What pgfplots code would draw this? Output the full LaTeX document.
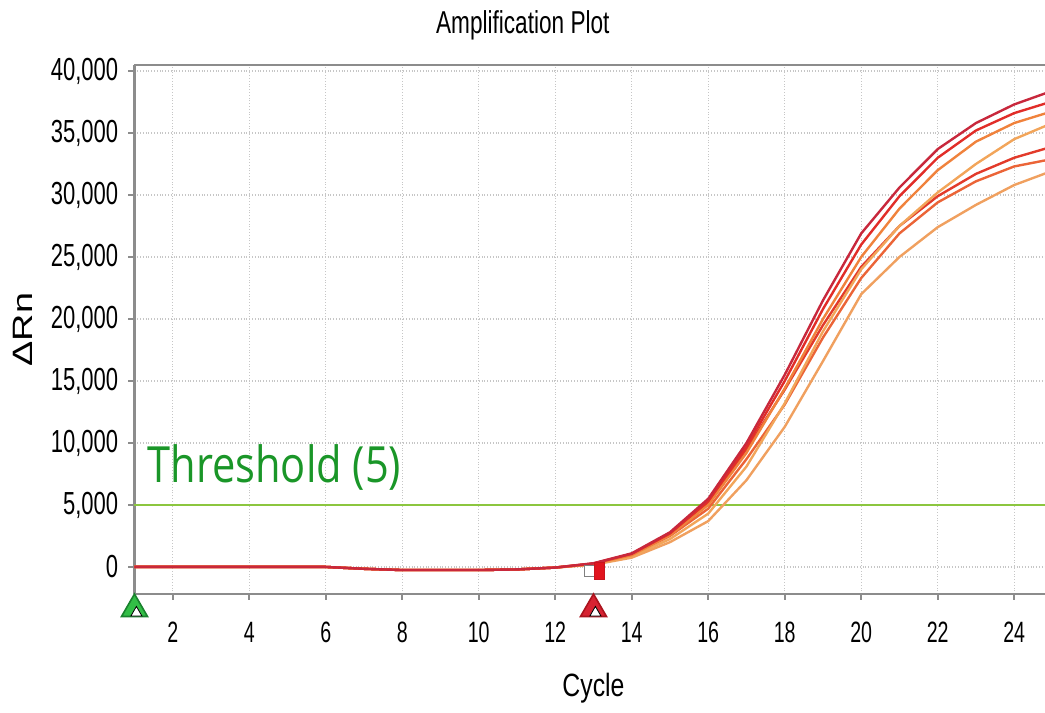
\documentclass[border=0pt]{standalone}
\usepackage{fontspec}
\setmainfont{Liberation Sans}
\newfontfamily\opensans{Open Sans}
\usepackage{graphicx}
\usepackage{pgfplots}
\pgfplotsset{compat=1.18}
\definecolor{cA}{RGB}{200,40,60}
\definecolor{cB}{RGB}{225,45,40}
\definecolor{cC}{RGB}{240,130,60}
\definecolor{cD}{RGB}{242,165,90}
\definecolor{cE}{RGB}{226,58,42}
\definecolor{cF}{RGB}{235,100,55}
\definecolor{cG}{RGB}{240,160,95}
\definecolor{thr}{RGB}{140,198,63}
\definecolor{thrtxt}{RGB}{26,150,40}
\definecolor{axgray}{RGB}{140,140,140}
\begin{document}
\begin{tikzpicture}
\begin{axis}[
  scale only axis,
  width=459pt, height=264.5pt,
  xmin=1, xmax=25, ymin=-2180, ymax=40480,
  clip=false,
  axis x line*=box, axis y line*=left,
  axis line style={axgray, line width=1.1pt},
  xtick={2,4,...,24}, ytick={0,5000,...,40000},
  xtick pos=bottom, ytick pos=left,
  tick align=outside, major tick length=3pt,
  tick style={axgray, line width=0.8pt},
  scaled y ticks=false,
  /pgf/number format/assume math mode=true,
  /pgf/number format/1000 sep={,},
  grid=major,
  major grid style={gray!45, densely dotted, line width=0.7pt},
  tick label style={font=\fontsize{11}{12}\selectfont, text=black},
  xticklabel={\scalebox{1}[1.5]{\fontsize{9.8}{11}\selectfont\pgfmathprintnumber{\tick}}},
  yticklabel={\scalebox{1}[1.45]{\pgfmathprintnumber{\tick}}},
  xticklabel style={anchor=north, inner sep=0pt, yshift=-11pt},
  yticklabel style={anchor=east, inner sep=0pt, xshift=-5pt},
  title={\scalebox{1}[1.4]{\fontsize{11.3}{13}\selectfont Amplification Plot}},
  title style={at={(rel axis cs:0.423,1)}, anchor=center, yshift=14pt, inner sep=0pt},
  xlabel={\scalebox{1}[1.3]{\fontsize{12.4}{14}\selectfont Cycle}},
  xlabel style={at={(rel axis cs:0.5,0)}, anchor=center, yshift=-47pt, inner sep=0pt},
  ylabel={\scalebox{1.35}[1]{\fontsize{14}{16}\selectfont ΔRn}},
  ylabel style={at={(rel axis cs:0,0.5)}, anchor=center, yshift=56pt, inner sep=0pt},
]
% threshold
\addplot[thr, line width=1.3pt] coordinates {(1,5000) (25,5000)};
% amplification curves
\addplot[cG, line width=1.2pt] coordinates {(1,0)(2,0)(3,0)(4,0)(5,0)(6,0)(7,-150)(8,-250)(9,-250)(10,-250)(11,-200)(12,-50)(13,180)(14,750)(15,2000)(16,3700)(17,7000)(18,11300)(19,16600)(20,22000)(21,25000)(22,27400)(23,29200)(24,30800)(25,31950)};
\addplot[cF, line width=1.2pt] coordinates {(1,0)(2,0)(3,0)(4,0)(5,0)(6,0)(7,-150)(8,-250)(9,-250)(10,-250)(11,-200)(12,-50)(13,240)(14,950)(15,2500)(16,4700)(17,8700)(18,13100)(19,18500)(20,23300)(21,26900)(22,29400)(23,31100)(24,32300)(25,32900)};
\addplot[cE, line width=1.2pt] coordinates {(1,0)(2,0)(3,0)(4,0)(5,0)(6,0)(7,-150)(8,-250)(9,-250)(10,-250)(11,-200)(12,-50)(13,270)(14,1050)(15,2700)(16,5200)(17,9500)(18,14300)(19,19500)(20,24200)(21,27500)(22,29900)(23,31700)(24,33000)(25,33900)};
\addplot[cD, line width=1.2pt] coordinates {(1,0)(2,0)(3,0)(4,0)(5,0)(6,0)(7,-150)(8,-250)(9,-250)(10,-250)(11,-200)(12,-50)(13,220)(14,850)(15,2250)(16,4300)(17,8100)(18,13200)(19,19000)(20,24000)(21,27500)(22,30200)(23,32500)(24,34500)(25,35800)};
\addplot[cC, line width=1.2pt] coordinates {(1,0)(2,0)(3,0)(4,0)(5,0)(6,0)(7,-150)(8,-250)(9,-250)(10,-250)(11,-200)(12,-50)(13,250)(14,950)(15,2550)(16,5000)(17,9200)(18,14400)(19,20000)(20,25000)(21,28900)(22,32000)(23,34300)(24,35800)(25,36750)};
\addplot[cB, line width=1.2pt] coordinates {(1,0)(2,0)(3,0)(4,0)(5,0)(6,0)(7,-150)(8,-250)(9,-250)(10,-250)(11,-200)(12,-50)(13,280)(14,1050)(15,2700)(16,5300)(17,9700)(18,15000)(19,20800)(20,26000)(21,29900)(22,33000)(23,35200)(24,36600)(25,37550)};
\addplot[cA, line width=1.2pt] coordinates {(1,0)(2,0)(3,0)(4,0)(5,0)(6,0)(7,-150)(8,-250)(9,-250)(10,-250)(11,-200)(12,-50)(13,300)(14,1100)(15,2800)(16,5500)(17,10000)(18,15500)(19,21500)(20,26900)(21,30600)(22,33700)(23,35800)(24,37300)(25,38400)};
% baseline start / end markers
\addplot[only marks, mark=square*, mark size=2.6pt, mark options={fill=white, draw=gray, line width=0.6pt}] coordinates {(12.9,-330)};
\addplot[only marks, mark=square*, mark size=2.6pt, mark options={fill={rgb,255:red,225;green,20;blue,30}, draw={rgb,255:red,200;green,20;blue,30}, yscale=1.6}] coordinates {(13.15,-330)};
\addplot[only marks, mark=triangle*, mark size=7.5pt, mark options={fill={rgb,255:red,50;green,190;blue,70}, draw={rgb,255:red,25;green,130;blue,45}, line width=0.8pt}] coordinates {(1,-3390)};
\addplot[only marks, mark=triangle*, mark size=3.2pt, mark options={fill=white, draw=none}] coordinates {(1.05,-3700)};
\addplot[only marks, mark=triangle*, mark size=7.5pt, mark options={fill={rgb,255:red,215;green,35;blue,50}, draw={rgb,255:red,170;green,20;blue,30}, line width=0.8pt}] coordinates {(13,-3390)};
\addplot[only marks, mark=triangle*, mark size=3.2pt, mark options={fill=white, draw=none}] coordinates {(13.05,-3700)};
\node[anchor=base west, inner sep=0pt, text=thrtxt] at (axis cs:1.33,6830) {\scalebox{1}[1.2]{\opensans\fontsize{20.8}{24}\selectfont Threshold (5)}};
\end{axis}
\pgfresetboundingbox
\path[use as bounding box] ([shift={(-67.25pt,-59.5pt)}]current axis.south west) rectangle ([shift={(455.25pt,32.5pt)}]current axis.north west);
\end{tikzpicture}
\end{document}
